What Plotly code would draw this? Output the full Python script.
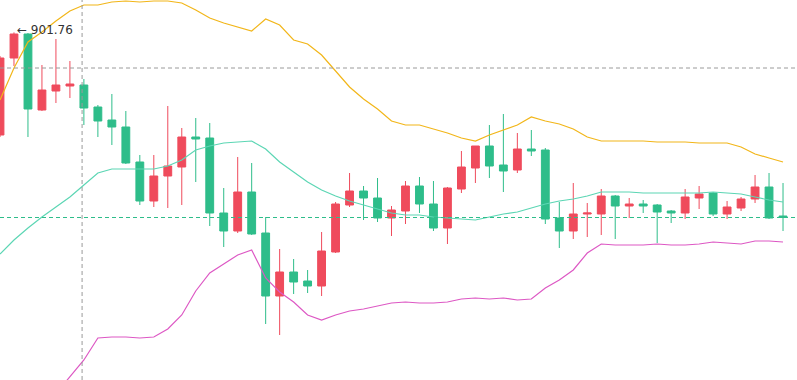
import plotly.graph_objects as go

# ---- data (candle index, OHLC, Bollinger bands) ----
idx = list(range(57))
opens = [891.5, 899.2, 901.6, 894.0, 895.9, 896.4, 896.5, 894.3, 893.0, 892.3,
         888.8, 884.9, 887.4, 888.3, 891.3, 891.2, 883.7, 881.9, 885.8, 881.7,
         875.4, 877.8, 876.9, 876.4, 879.8, 884.5, 885.9, 885.2, 883.2, 883.9,
         886.4, 884.6, 882.2, 886.1, 888.2, 890.4, 888.5, 888.0, 890.1, 890.0,
         883.2, 881.9, 883.6, 883.6, 885.4, 884.4, 884.6, 884.5, 883.9, 883.7,
         885.2, 885.7, 883.6, 884.2, 885.1, 886.3, 883.4]
highs = [899.4, 901.76, 901.7, 898.5, 901.1, 898.9, 897.1, 894.5, 895.6, 893.9,
         889.5, 889.5, 894.4, 892.2, 893.2, 892.7, 886.2, 889.3, 888.7, 883.3,
         880.1, 879.1, 878.0, 881.8, 884.8, 887.7, 886.4, 887.2, 884.4, 886.9,
         887.3, 886.9, 886.3, 889.9, 890.4, 892.5, 893.6, 891.7, 892.0, 890.2,
         884.8, 886.7, 884.7, 886.1, 885.5, 885.2, 885.0, 884.6, 884.0, 886.1,
         886.4, 885.8, 884.9, 885.3, 887.5, 887.7, 886.7]
lows = [891.3, 898.4, 891.3, 893.9, 894.7, 895.2, 892.5, 891.3, 890.5, 888.6,
        884.5, 884.3, 884.2, 884.5, 886.8, 882.4, 880.3, 881.7, 881.5, 872.6,
        871.5, 875.6, 875.7, 875.4, 879.7, 884.3, 883.0, 882.8, 881.4, 882.6,
        883.7, 881.9, 880.6, 885.7, 886.7, 887.2, 885.8, 887.7, 889.4, 882.6,
        880.2, 881.1, 881.3, 881.5, 881.1, 883.2, 883.7, 880.7, 882.7, 883.1,
        884.1, 883.4, 883.1, 883.9, 884.7, 883.1, 881.9]
closes = [899.2, 901.6, 894.1, 896.0, 896.5, 896.6, 894.2, 892.9, 892.3, 888.7,
          884.9, 887.4, 888.4, 891.3, 891.1, 883.7, 881.9, 885.8, 881.6, 875.4,
          877.8, 876.8, 876.4, 879.9, 884.6, 885.9, 885.2, 883.2, 884.0, 886.4,
          884.6, 882.2, 886.2, 888.3, 890.4, 888.4, 887.9, 890.1, 889.9, 883.1,
          881.9, 883.6, 883.7, 885.4, 884.4, 884.6, 884.4, 883.8, 883.7, 885.3,
          885.6, 883.6, 884.3, 885.1, 886.3, 883.2, 883.25]
upper = [895.0, 898.2, 900.8, 901.8, 902.9, 903.9, 904.5, 904.5, 904.8, 904.9,
         904.8, 904.9, 904.9, 904.7, 904.0, 903.2, 902.7, 902.3, 901.9, 903.1,
         902.5, 901.0, 900.6, 899.5, 897.9, 896.3, 895.1, 894.1, 892.9, 892.5,
         892.5, 892.1, 891.7, 891.2, 890.9, 891.5, 892.0, 892.5, 893.3, 892.9,
         892.6, 892.1, 891.3, 890.9, 890.9, 890.9, 890.9, 890.8, 890.8, 890.8,
         890.7, 890.7, 890.7, 890.3, 889.6, 889.2, 888.8]
middle = [879.6, 881.0, 882.2, 883.3, 884.3, 885.3, 886.5, 887.7, 888.1, 888.1,
          888.1, 888.1, 888.4, 889.0, 890.0, 890.4, 890.7, 890.8, 890.9, 890.1,
          888.8, 887.8, 886.8, 886.0, 885.4, 884.9, 884.5, 884.1, 883.7, 883.5,
          883.5, 883.3, 883.2, 883.1, 883.0, 883.3, 883.6, 883.8, 884.2, 884.6,
          884.9, 885.1, 885.4, 885.8, 885.8, 885.8, 885.7, 885.7, 885.7, 885.7,
          885.7, 885.8, 885.7, 885.6, 885.3, 885.0, 884.8]
lower = [859.0, 860.5, 862.3, 864.0, 865.6, 867.4, 869.0, 871.2, 871.3, 871.3,
         871.2, 871.3, 872.1, 873.5, 875.9, 877.7, 878.6, 879.5, 880.0, 877.2,
         875.8, 874.8, 873.5, 873.0, 873.5, 873.9, 874.1, 874.4, 874.7, 874.8,
         874.7, 874.7, 874.8, 875.1, 875.2, 875.1, 875.2, 875.0, 875.1, 876.2,
         877.0, 878.0, 879.7, 880.6, 880.5, 880.5, 880.5, 880.6, 880.5, 880.5,
         880.6, 880.8, 880.7, 880.6, 880.9, 880.9, 880.8]
high_label = "← 901.76"
crosshair_x = 5.87
crosshair_y = 898.2

UP = "#ef4b5c"     # rising candles (red)
DOWN = "#2ebd8a"   # falling candles (green)

fig = go.Figure()
fig.add_trace(go.Candlestick(
    x=idx, open=opens, high=highs, low=lows, close=closes,
    increasing=dict(line=dict(color=UP, width=1), fillcolor=UP),
    decreasing=dict(line=dict(color=DOWN, width=1), fillcolor=DOWN),
    whiskerwidth=0, hoverinfo="skip",
))
fig.add_trace(go.Scatter(x=idx, y=upper, mode="lines",
                         line=dict(color="#f2b619", width=1.2), hoverinfo="skip"))
fig.add_trace(go.Scatter(x=idx, y=middle, mode="lines",
                         line=dict(color="#5cd6b4", width=1.2), hoverinfo="skip"))
fig.add_trace(go.Scatter(x=idx, y=lower, mode="lines",
                         line=dict(color="#dd58c4", width=1.2), hoverinfo="skip"))

# last-price line (colour of the last candle)
last_color = DOWN if closes[-1] < opens[-1] else UP
fig.add_trace(go.Scatter(x=[0, 57], y=[closes[-1], closes[-1]], mode="lines",
                         line=dict(color=last_color, width=1.2, dash="4px,3px"),
                         hoverinfo="skip"))
# crosshair
fig.add_shape(type="line", xref="paper", x0=0, x1=1, yref="y",
              y0=crosshair_y, y1=crosshair_y,
              line=dict(color="#9a9a9a", width=1, dash="4px,3px"))
fig.add_shape(type="line", xref="x", x0=crosshair_x, x1=crosshair_x,
              yref="paper", y0=0, y1=1,
              line=dict(color="#9a9a9a", width=1, dash="4px,3px"))

fig.add_annotation(x=1, y=max(highs), text=high_label, showarrow=False,
                   xanchor="left", yanchor="middle", xshift=1, yshift=2,
                   font=dict(family="DejaVu Sans, Arial, sans-serif", size=12, color="#333333"))

fig.update_layout(
    width=797, height=380,
    margin=dict(l=0, r=0, t=0, b=0),
    paper_bgcolor="white", plot_bgcolor="white",
    showlegend=False, boxgap=0.2,
    xaxis=dict(range=[0, 57.0], visible=False, rangeslider=dict(visible=False),
               showgrid=False, zeroline=False, fixedrange=True),
    yaxis=dict(range=[867.0, 905.0], visible=False, showgrid=False,
               zeroline=False, fixedrange=True),
)

fig.write_html("out.html", config={"displayModeBar": False})

# remove the default page margin so the chart sits at the window's top-left corner
with open("out.html", "r", encoding="utf-8") as f:
    html = f.read()
html = html.replace("<head>", "<head><style>html,body{margin:0;padding:0;overflow:hidden;}</style>", 1)
with open("out.html", "w", encoding="utf-8") as f:
    f.write(html)
